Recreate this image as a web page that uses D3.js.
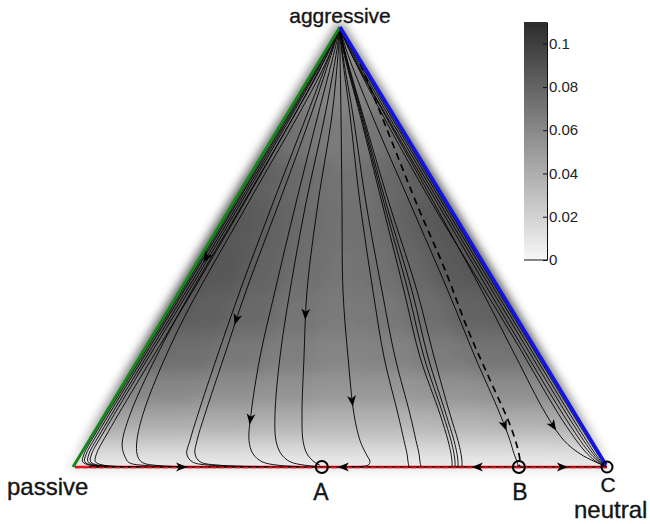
<!DOCTYPE html>
<html>
<head>
<meta charset="utf-8">
<script src="https://cdn.jsdelivr.net/npm/d3@7"></script>
<style>
  html, body { margin: 0; padding: 0; background: #fff; }
  svg { display: block; font-family: "Liberation Sans", Arial, sans-serif; }
</style>
</head>
<body>
<div id="chart"></div>
<script>
// ---- shading (value of the field) ----
// rows: aggressive share; cols: relative position across the row (0 = passive edge, 1 = neutral edge)
const shadeRows = [0.95, 0.85, 0.75, 0.65, 0.55, 0.45, 0.35, 0.25, 0.17, 0.10, 0.05, 0.015]
const shadeCols = [0, 0.125, 0.25, 0.375, 0.5, 0.625, 0.75, 0.875, 1]
const shadeValues = [
  [0.058, 0.058, 0.058, 0.058, 0.058, 0.058, 0.058, 0.058, 0.058],
  [0.066, 0.065, 0.064, 0.063, 0.062, 0.063, 0.064, 0.065, 0.066],
  [0.075, 0.073, 0.070, 0.068, 0.067, 0.068, 0.070, 0.073, 0.076],
  [0.084, 0.081, 0.077, 0.073, 0.071, 0.072, 0.076, 0.081, 0.085],
  [0.088, 0.085, 0.080, 0.075, 0.072, 0.073, 0.079, 0.085, 0.089],
  [0.088, 0.086, 0.080, 0.074, 0.071, 0.072, 0.078, 0.085, 0.088],
  [0.085, 0.082, 0.077, 0.071, 0.068, 0.069, 0.074, 0.080, 0.083],
  [0.076, 0.073, 0.069, 0.065, 0.062, 0.063, 0.067, 0.071, 0.072],
  [0.062, 0.060, 0.057, 0.054, 0.052, 0.052, 0.054, 0.057, 0.058],
  [0.045, 0.043, 0.041, 0.039, 0.037, 0.037, 0.038, 0.040, 0.041],
  [0.026, 0.025, 0.024, 0.023, 0.022, 0.022, 0.023, 0.023, 0.024],
  [0.008, 0.008, 0.008, 0.007, 0.007, 0.007, 0.007, 0.007, 0.008]
]

// ---- colour bar ----
const colorMax = 0.11
const colorTicks = [0, 0.02, 0.04, 0.06, 0.08, 0.1]
const colorTickLabels = ['0', '0.02', '0.04', '0.06', '0.08', '0.1']

// ---- trajectories, points are [neutral share, aggressive share] ----
const trajectories = {
  g1: [[0,1],[0.0006,0.97],[0.0015,0.9],[0.0022,0.8],[0.0031,0.6],[0.0037,0.4],[0.0037,0.2],[0.004,0.08],[0.006,0.03],[0.012,0.012],[0.03,0.004],[0.09,0.001]],
  g2: [[0,1],[0.001,0.97],[0.003,0.9],[0.0045,0.8],[0.0064,0.6],[0.0075,0.4],[0.0075,0.2],[0.008,0.08],[0.01,0.03],[0.016,0.012],[0.034,0.004],[0.1,0.001]],
  g3: [[0,1],[0.002,0.97],[0.005,0.9],[0.0073,0.8],[0.0104,0.6],[0.0122,0.4],[0.0122,0.2],[0.013,0.08],[0.015,0.03],[0.022,0.012],[0.04,0.004],[0.11,0.001]],
  g4: [[0,1],[0.0025,0.97],[0.0068,0.9],[0.01,0.8],[0.0144,0.6],[0.0169,0.4],[0.017,0.2],[0.018,0.08],[0.02,0.03],[0.027,0.012],[0.046,0.004],[0.12,0.001]],
  g5: [[0,1],[0.0036,0.97],[0.0097,0.9],[0.0146,0.8],[0.0207,0.6],[0.0243,0.4],[0.0245,0.2],[0.026,0.08],[0.029,0.03],[0.036,0.012],[0.056,0.004],[0.13,0.001]],
  g6: [[0,1],[0.004,0.97],[0.011,0.9],[0.015,0.8],[0.019,0.6],[0.026,0.31],[0.047,0.12],[0.067,0.05],[0.086,0.023],[0.1,0.01],[0.14,0.003],[0.2,0.001]],
  g7: [[0,1],[0.006,0.97],[0.016,0.9],[0.022,0.8],[0.028,0.6],[0.041,0.31],[0.071,0.12],[0.094,0.05],[0.11,0.023],[0.125,0.01],[0.16,0.003],[0.22,0.001]],
  m1a: [[0,1],[0.010,0.95],[0.038,0.8],[0.0745,0.6],[0.1127,0.4],[0.1446,0.25],[0.174,0.12],[0.189,0.06],[0.198,0.03],[0.217,0.012],[0.2545,0.004],[0.35,0.001]],
  m1b: [[0,1],[0.0119,0.95],[0.0457,0.8],[0.0857,0.6],[0.124,0.4],[0.1577,0.25],[0.1871,0.12],[0.2022,0.06],[0.2134,0.03],[0.2318,0.012],[0.2732,0.004],[0.3684,0.001]],
  m2: [[0,1],[0.0156,0.95],[0.0588,0.8],[0.1176,0.6],[0.1783,0.4],[0.2252,0.25],[0.2733,0.12],[0.2996,0.06],[0.322,0.03],[0.3479,0.012],[0.3819,0.004],[0.4246,0.001]],
  m3: [[0,1],[0.0194,0.95],[0.0719,0.8],[0.1363,0.6],[0.2063,0.4],[0.2626,0.25],[0.3183,0.12],[0.3501,0.06],[0.3745,0.03],[0.4003,0.012],[0.4324,0.004],[0.4583,0.001]],
  m4: [[0,1],[0.0222,0.95],[0.085,0.8],[0.1588,0.6],[0.2382,0.4],[0.3076,0.25],[0.3688,0.12],[0.4007,0.06],[0.4232,0.03],[0.4453,0.012],[0.4605,0.004]],
  m5: [[0,1],[0.025,0.95],[0.1019,0.8],[0.2037,0.6],[0.3056,0.4],[0.39,0.25],[0.4662,0.12],[0.5075,0.06],[0.5337,0.03],[0.5502,0.012],[0.5504,0.004],[0.5182,0.001]],
  m6: [[0,1],[0.0278,0.95],[0.1187,0.8],[0.2375,0.6],[0.3618,0.4],[0.4574,0.25],[0.5486,0.12],[0.5899,0.06],[0.6105,0.03],[0.6214,0.012],[0.6287,0.001]],
  m7: [[0,1],[0.0287,0.95],[0.1243,0.8],[0.2487,0.6],[0.3787,0.4],[0.478,0.25],[0.5711,0.12],[0.6123,0.06],[0.633,0.03],[0.6438,0.012],[0.6512,0.001]],
  m8: [[0,1],[0.0306,0.95],[0.1375,0.8],[0.2787,0.6],[0.4199,0.4],[0.5248,0.25],[0.6273,0.12],[0.6723,0.06],[0.6929,0.03],[0.7038,0.012],[0.7093,0.001]],
  m9: [[0,1],[0.0316,0.95],[0.1393,0.8],[0.2824,0.6],[0.4274,0.4],[0.5323,0.25],[0.6329,0.12],[0.6779,0.06],[0.6985,0.03],[0.7094,0.012],[0.7149,0.001]],
  m10: [[0,1],[0.0325,0.95],[0.1412,0.8],[0.2862,0.6],[0.4349,0.4],[0.5398,0.25],[0.6385,0.12],[0.6835,0.06],[0.7041,0.03],[0.715,0.012],[0.7205,0.001]],
  m11: [[0,1],[0.0334,0.95],[0.1431,0.8],[0.2918,0.6],[0.4442,0.4],[0.5511,0.25],[0.646,0.12],[0.691,0.06],[0.7116,0.03],[0.7225,0.012],[0.728,0.001]],
  m12: [[0,1],[0.0362,0.95],[0.1599,0.8],[0.3311,0.6],[0.5023,0.4],[0.6279,0.25],[0.7397,0.12],[0.7884,0.06],[0.8109,0.03],[0.8255,0.012],[0.8329,0.001]],
  m13: [[0,1],[0.0419,0.95],[0.1843,0.8],[0.3761,0.6],[0.566,0.4],[0.7046,0.25],[0.8258,0.12],[0.8896,0.06],[0.9345,0.03],[0.9716,0.012],[0.9952,0.0023],[1,0]],
  r1: [[0,1],[0.029,0.97],[0.098,0.9],[0.197,0.8],[0.396,0.6],[0.696,0.3],[0.896,0.1],[0.967,0.03],[0.988,0.01],[1,0]],
  r2: [[0,1],[0.028,0.97],[0.096,0.9],[0.194,0.8],[0.392,0.6],[0.691,0.3],[0.891,0.1],[0.963,0.03],[0.986,0.01],[1,0]],
  r3: [[0,1],[0.027,0.97],[0.093,0.9],[0.19,0.8],[0.387,0.6],[0.685,0.3],[0.885,0.1],[0.959,0.03],[0.984,0.01],[1,0]],
  r4: [[0,1],[0.026,0.97],[0.09,0.9],[0.186,0.8],[0.382,0.6],[0.678,0.3],[0.878,0.1],[0.954,0.03],[0.982,0.01],[1,0]],
  r5: [[0,1],[0.024,0.97],[0.087,0.9],[0.18,0.8],[0.372,0.6],[0.672,0.3],[0.87,0.1],[0.948,0.03],[0.978,0.01],[1,0]]
}
// separatrix into B (dashed)
const separatrix = [[0.059,0.941],[0.149,0.834],[0.3506,0.591],[0.4727,0.448],[0.584,0.3114],[0.6821,0.1977],[0.7707,0.0955],[0.8141,0.0386],[0.8326,0.0091],[0.835,0]]
// flows along the passive-neutral edge
const edgeFlows = {
  e1: [[0.03,0],[0.466,0]],
  e2: [[0.835,0],[0.466,0]],
  e3: [[0.835,0],[1,0]]
}
const fixedPoints = [
  { label: 'A', n: 0.466 },
  { label: 'B', n: 0.835 },
  { label: 'C', n: 1 }
]
const arrows = [
  { path: 'g3', at: [0.0086, 0.477] },
  { path: 'm1b', at: [0.139, 0.334] },
  { path: 'm2', at: [0.278, 0.107] },
  { path: 'm4', at: [0.2673, 0.3455] },
  { path: 'm5', at: [0.4486, 0.1477] },
  { path: 'm12', at: [0.7579, 0.0909] },
  { path: 'm13', at: [0.8516, 0.0909] },
  { path: 'e1', at: [0.204, 0] },
  { path: 'e2', at: [0.506, 0] },
  { path: 'e2', at: [0.757, 0] },
  { path: 'e3', at: [0.918, 0] }
]

const width = 650
const height = 524
const x = d3.scaleLinear().domain([0, 1]).range([73, 607])
const y = d3.scaleLinear().domain([0, 1]).range([467, 27])
const project = ([n, a]) => [x(n + a / 2), y(a)]
const shade = d3.scaleLinear().domain([0, colorMax]).range(['#f7f7f7', '#2c2c2c'])
const ink = '#151515'
const triPoints = [[0, 0], [0, 1], [1, 0]].map(project).map(p => p.join(',')).join(' ')

const svg = d3.select('#chart').append('svg')
  .attr('width', width)
  .attr('height', height)

const defs = svg.append('defs')
defs.append('clipPath').attr('id', 'tri')
  .append('polygon')
  .attr('points', triPoints)
defs.append('filter').attr('id', 'soft')
  .attr('x', '-10%').attr('y', '-10%').attr('width', '120%').attr('height', '120%')
  .append('feGaussianBlur').attr('stdDeviation', 9)
defs.append('filter').attr('id', 'halo')
  .attr('x', '-10%').attr('y', '-10%').attr('width', '120%').attr('height', '120%')
  .append('feGaussianBlur').attr('stdDeviation', 5)

// halo round the simplex: the shading of each row, blurred outward
const haloGrad = defs.append('linearGradient').attr('id', 'haloGrad')
  .attr('gradientUnits', 'userSpaceOnUse')
  .attr('x1', 0).attr('x2', 0).attr('y1', y(1)).attr('y2', y(0))
haloGrad.selectAll('stop')
  .data(shadeRows)
  .enter()
  .append('stop')
    .attr('offset', a => 1 - a)
    .attr('stop-color', (a, i) => shade(d3.max(shadeValues[i])))
svg.append('polygon')
  .attr('points', triPoints)
  .attr('fill', 'url(#haloGrad)')
  .attr('stroke', 'url(#haloGrad)')
  .attr('stroke-width', 9)
  .attr('stroke-linejoin', 'round')
  .attr('filter', 'url(#halo)')

// heat cells in the simplex
const uAt = (f, a) => {
  const w = Math.max(0, 1 - a)
  if (f === 'L') return 0.5 - 0.5 * w - 0.06
  if (f === 'R') return 0.5 + 0.5 * w + 0.06
  return 0.5 + (f - 0.5) * w
}
const cells = []
shadeRows.forEach((a, i) => {
  const aTop = i === 0 ? 1.03 : (shadeRows[i - 1] + a) / 2
  const aBot = i === shadeRows.length - 1 ? -0.03 : (a + shadeRows[i + 1]) / 2
  shadeCols.forEach((f, j) => {
    const f0 = j === 0 ? 'L' : (shadeCols[j - 1] + f) / 2
    const f1 = j === shadeCols.length - 1 ? 'R' : (f + shadeCols[j + 1]) / 2
    cells.push({
      value: shadeValues[i][j],
      pts: [[uAt(f0, aTop), aTop], [uAt(f1, aTop), aTop], [uAt(f1, aBot), aBot], [uAt(f0, aBot), aBot]]
    })
  })
})

const heat = svg.append('g').attr('clip-path', 'url(#tri)')
  .append('g').attr('filter', 'url(#soft)')
heat.selectAll('polygon')
  .data(cells)
  .enter()
  .append('polygon')
    .attr('points', d => d.pts.map(p => [x(p[0]), y(p[1])].join(',')).join(' '))
    .attr('fill', d => shade(d.value))
    .attr('stroke', d => shade(d.value))
    .attr('stroke-width', 1)

const line = d3.line()
  .x(d => project(d)[0])
  .y(d => project(d)[1])
  .curve(d3.curveCatmullRom.alpha(0.5))

// bottom edge (red) and flows on it
svg.append('line')
  .attr('x1', x(0) + 2).attr('x2', x(1))
  .attr('y1', y(0)).attr('y2', y(0))
  .attr('stroke', '#e3141c').attr('stroke-width', 2.4)

const paths = svg.append('g')
  .attr('fill', 'none')
  .attr('stroke', '#000')
Object.entries(trajectories).forEach(([key, pts]) => {
  paths.append('path').attr('id', key).attr('d', line(pts)).attr('stroke-width', 0.9)
})
Object.entries(edgeFlows).forEach(([key, pts]) => {
  paths.append('path').attr('id', key).attr('d', line(pts)).attr('stroke-width', 1)
})
paths.append('path')
  .attr('d', line(separatrix))
  .attr('stroke-width', 1.7)
  .attr('stroke-dasharray', '7,5')

svg.append('line')
  .attr('x1', x(0) + 2).attr('x2', x(1))
  .attr('y1', y(0) + 0.5).attr('y2', y(0) + 0.5)
  .attr('stroke', '#e3141c').attr('stroke-width', 1.6)
  .attr('stroke-dasharray', '5,3')

// edges with no neutral / no passive players
svg.append('line')
  .attr('x1', project([0, 0])[0]).attr('y1', project([0, 0])[1])
  .attr('x2', project([0, 1])[0]).attr('y2', project([0, 1])[1])
  .attr('stroke', '#16861a').attr('stroke-width', 3)
svg.append('line')
  .attr('x1', project([0, 1])[0]).attr('y1', project([0, 1])[1])
  .attr('x2', project([1, 0])[0] - 1).attr('y2', project([1, 0])[1] - 2)
  .attr('stroke', '#1414e6').attr('stroke-width', 3.5)

// arrow heads along the flows
const pose = (node, target) => {
  const len = node.getTotalLength()
  let best = 0
  let bestD = Infinity
  for (let s = 0; s <= len; s += 1) {
    const p = node.getPointAtLength(s)
    const d = (p.x - target[0]) ** 2 + (p.y - target[1]) ** 2
    if (d < bestD) { bestD = d; best = s }
  }
  const p = node.getPointAtLength(best)
  const p0 = node.getPointAtLength(Math.max(0, best - 3))
  const p1 = node.getPointAtLength(Math.min(len, best + 3))
  return { x: p.x, y: p.y, angle: Math.atan2(p1.y - p0.y, p1.x - p0.x) * 180 / Math.PI }
}
svg.append('g').selectAll('path')
  .data(arrows.map(d => pose(document.getElementById(d.path), project(d.at))))
  .enter()
  .append('path')
    .attr('d', 'M5,0L-6,-4.4L-3,0L-6,4.4Z')
    .attr('fill', '#000')
    .attr('transform', d => `translate(${d.x},${d.y}) rotate(${d.angle})`)

// rest points
svg.append('g').selectAll('circle')
  .data(fixedPoints)
  .enter()
  .append('circle')
    .attr('cx', d => x(d.n))
    .attr('cy', y(0))
    .attr('r', d => d.label === 'C' ? 5.5 : 6)
    .attr('fill', 'none')
    .attr('stroke', '#000')
    .attr('stroke-width', 2)

const labels = svg.append('g')
  .attr('fill', ink)
  .attr('stroke', ink)
  .attr('stroke-width', 0.35)
labels.selectAll('text')
  .data(fixedPoints)
  .enter()
  .append('text')
    .attr('x', d => x(d.n) + (d.label === 'A' ? -1 : 1))
    .attr('y', d => y(0) + (d.label === 'C' ? 25 : 33))
    .attr('text-anchor', 'middle')
    .attr('font-size', d => d.label === 'C' ? 21 : 23)
    .text(d => d.label)

// vertex labels
labels.append('text')
  .attr('x', project([0, 1])[0]).attr('y', project([0, 1])[1] - 4)
  .attr('text-anchor', 'middle').attr('font-size', 21)
  .text('aggressive')
labels.append('text')
  .attr('x', project([0, 0])[0] - 66).attr('y', project([0, 0])[1] + 28)
  .attr('font-size', 24)
  .text('passive')
labels.append('text')
  .attr('x', project([1, 0])[0] - 33).attr('y', project([1, 0])[1] + 51)
  .attr('font-size', 24)
  .text('neutral')

// colour bar
const cb = d3.scaleLinear().domain([0, colorMax]).range([260, 22])
const grad = defs.append('linearGradient').attr('id', 'cbar')
  .attr('x1', 0).attr('y1', 1).attr('x2', 0).attr('y2', 0)
grad.selectAll('stop')
  .data(d3.range(0, 11))
  .enter()
  .append('stop')
    .attr('offset', d => d / 10)
    .attr('stop-color', d => shade(d / 10 * colorMax))
svg.append('rect')
  .attr('x', 524).attr('y', cb(colorMax))
  .attr('width', 23).attr('height', cb(0) - cb(colorMax))
  .attr('fill', 'url(#cbar)')
const axis = svg.append('g')
  .attr('transform', 'translate(547,0)')
  .call(d3.axisRight(cb)
    .tickValues(colorTicks)
    .tickFormat((d, i) => colorTickLabels[i])
    .tickSizeInner(-4)
    .tickSizeOuter(0)
    .tickPadding(2))
axis.attr('font-size', 15).attr('font-family', '"Liberation Sans", Arial, sans-serif')
axis.selectAll('text').attr('fill', '#222')
axis.selectAll('line, path').attr('stroke', '#111')
svg.append('line')
  .attr('x1', 524).attr('x2', 547)
  .attr('y1', cb(0)).attr('y2', cb(0))
  .attr('stroke', '#111')
</script>
</body>
</html>
